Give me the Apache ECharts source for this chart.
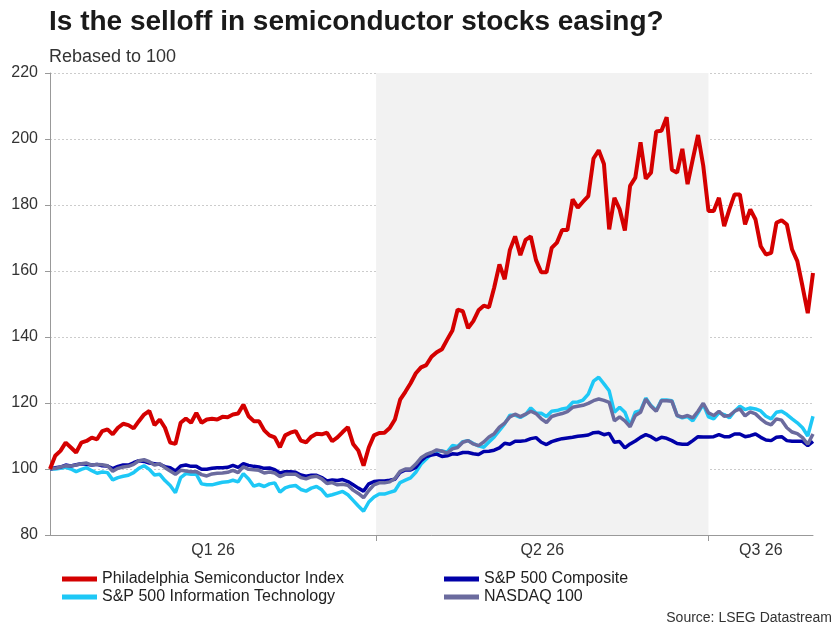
<!DOCTYPE html>
<html>
<head>
<meta charset="utf-8">
<script src="https://cdn.jsdelivr.net/npm/echarts@6/dist/echarts.min.js"></script>
<style>
  html, body { margin: 0; padding: 0; background: #fff; }
  #main { width: 840px; height: 629px; }
</style>
</head>
<body>
<div id="main"></div>
<script>
// 每个交易日一个点, 以100为基数
var sox = [100,104,105.5,108,106.5,105,108,108.5,109.5,109,
  111.5,112,110.5,112.5,113.7,113.3,112.3,114.5,116.5,117.6,
  113.3,115,112.5,108,107.6,114,115.3,114,117,114,
  115,115.2,115,115.8,115.7,116.5,116.8,119.5,116,114.5,
  114.5,111.7,110.2,109.6,106.6,110.2,111,111.5,108.6,108.1,
  109.8,110.7,110.5,111,108.4,109.6,111.2,112.7,107.6,105.6,
  101,106.5,110.2,110.9,111,112.4,115,121,123.4,126,
  129,130.8,131.5,134,135.4,136.3,139.2,142,148.3,147.8,
  142.7,144.8,148.1,149.5,149,155,162,157.5,166.4,170.5,
  164.8,169.4,170.5,163.3,159.6,159.6,167,168.6,172.4,172.4,
  181.7,179.2,181,182.7,194.1,196.6,192.4,172.6,182.2,178.7,
  172.3,185.8,188.3,199,188,189.8,202.3,202.5,206.6,190.7,
  189.8,197,186.3,193.9,201.2,191.9,178.2,178.2,182.2,173.6,
  178.7,183.2,183.2,174.1,178.7,175.6,167.5,165,165.5,174.6,
  175.4,174.1,166.5,163,155.3,147.2,159.4];
var spx = [100,100.4,100.6,101.2,100.9,101.3,101.6,101.4,101.2,101.4,
  101,100.9,100.1,100.8,101.2,101.2,101.9,102.5,102.3,101.8,
  101.6,101.4,100.7,100.4,99.4,100.9,101.2,100.8,100.8,99.9,
  99.9,100.2,100.4,100.4,100.5,101.1,100.5,101.6,101.1,100.8,
  100.6,100.2,100.3,99.8,98.8,99.2,99.2,99,98.2,97.8,
  98.1,98.1,97.4,96.4,96.7,96.5,96.8,96.2,95.2,94.2,
  93.3,95.5,96.2,96.4,96.4,96.6,96.9,99,99.7,99.7,
  100.5,102.5,103.8,104.2,104.5,103.8,104,104.6,104.5,105,
  105,104.6,104.4,105.3,105.4,105.7,106.4,107.8,107.5,108.4,
  108.4,108.6,109.2,109.5,108.1,107.4,108.3,108.8,109.2,109.4,
  109.6,109.9,110.1,110.3,111,111.1,110.4,110.8,108.1,108.3,
  106.4,107.6,108.5,109.6,110.4,109.8,108.8,109.6,109.3,108.6,
  107.7,107.5,107.5,108.6,109.8,109.7,109.7,109.8,110.4,109.8,
  109.8,110.6,110.6,109.8,110.1,110.6,109.6,108.8,108.6,109.6,
  109.8,108.6,108.4,108.4,108.4,107.1,108.4];
var spxIT = [100,100,100.2,100.5,100,99.2,99.9,100.4,99.5,98.7,
  99.1,98.9,96.7,97.4,97.8,98.1,98.9,100.2,101,99.9,
  98.2,98.4,96.5,95,92.8,97.4,98.6,98.4,98.4,95.5,
  95.2,95.2,95.6,96,96.1,96.6,96.1,98.6,97,94.8,
  95.3,94.7,95.5,95.8,93,94.3,94.8,95,93.8,93.3,
  94.2,94.7,93.7,91.8,92.2,92.7,93.2,92.2,90.5,88.8,
  87.2,90,91.5,92.4,92.4,92.9,93.4,95.9,96.6,97.3,
  99,101.5,103,104.6,105.4,105.5,105.1,107.1,106.8,108.3,
  108.6,107.7,107,106.6,108.2,109.7,111.7,113.7,116.3,116.3,
  115.6,116.5,118.5,117,116.9,115.9,117.5,117.7,118.2,118.5,
  120.2,120.3,120.9,122.7,126.6,127.8,125.8,123.7,117.2,118.7,
  117.2,113.1,117.2,117.7,121.5,119.2,117.7,120.9,120.9,120.7,
  116.2,115.5,115.9,114.6,117,119.7,115.8,115.2,117,116.5,
  115.5,117.5,119,118,118.5,118.2,117.6,116,115.2,117.2,
  117.5,116.5,115.2,114,112.5,110,116];
var ndx = [100,100.2,100.6,101,100.9,101.2,101.6,101.8,101.2,101.4,
  101.3,101,99.3,100.2,100.6,100.8,101.4,102.5,102.8,102.2,
  101.2,101.6,100.4,99.4,98.4,99.6,99.4,99.2,99.2,98.3,
  97.9,98.5,98.7,98.8,99,99.6,98.9,100.7,99.9,99.8,
  99.6,98.8,99.1,98.8,97.7,98.4,98.4,98.4,97.4,97,
  97.6,97.8,97,95.6,95.9,95.2,95.4,95.1,93.6,92.6,
  91.3,93.5,95.2,95.8,95.8,96.1,97.1,99.3,100,100,
  101.5,103.4,104.4,105,105.8,105.4,104.8,106.1,106.5,108.1,
  108.6,107.6,107.1,108.2,109.7,110.7,112.7,113.9,115.8,116.6,
  115.9,116.6,117.5,116.8,115.2,114.1,115.9,116.4,116.8,117.4,
  118.7,119,119.3,119.9,120.7,121.2,120.8,120.2,114.6,115.8,
  114.6,112.8,116.2,117.2,121.2,119,117.5,120.7,120.7,120.5,
  116.2,115.7,116.2,115.5,117.5,119.9,117,116.2,117.5,116,
  116.2,117.5,118.2,116.1,117.3,116.7,115.2,114,113.4,115.2,
  114.8,112.5,111.2,110.7,109.5,107.5,110.6];

// 季度标签和分界 (按交易日序号)
var quarterNames = ['Q1 26', 'Q2 26', 'Q3 26'];
var quarterEdges = [0, 62.4, 126, 146];
var yTicks = [80, 100, 120, 140, 160, 180, 200, 220];

var names = ['Philadelphia Semiconductor Index', 'S&P 500 Composite',
  'S&P 500 Information Technology', 'NASDAQ 100'];

function toPairs (arr) {
  return arr.map(function (v, i) { return [i, v]; });
}

// 季度标签放在每段中间
var labelPos = [];
for (var q = 0; q < quarterNames.length; q++) {
  labelPos.push((quarterEdges[q] + quarterEdges[q + 1]) / 2);
}

var myChart = echarts.init(document.getElementById('main'));
var font = 'Liberation Sans, Arial, sans-serif';

var option = {
  animation: false,
  backgroundColor: '#fff',
  textStyle: { fontFamily: font },
  title: {
    text: 'Is the selloff in semiconductor stocks easing?',
    subtext: 'Rebased to 100',
    left: 44,
    top: 3,
    itemGap: 12,
    textStyle: { fontSize: 28, fontWeight: 'bold', color: '#1a1a1a', fontFamily: font },
    subtextStyle: { fontSize: 18, color: '#333', fontFamily: font }
  },
  grid: { left: 50, right: 27, top: 73, bottom: 94 },
  legend: [
    {
      orient: 'vertical',
      left: 57,
      top: 566,
      itemGap: 2,
      itemWidth: 35,
      itemHeight: 5,
      icon: 'rect',
      selectedMode: false,
      data: [names[0], names[2]],
      textStyle: { fontSize: 16, color: '#222', fontFamily: font }
    },
    {
      orient: 'vertical',
      left: 439,
      top: 566,
      itemGap: 2,
      itemWidth: 35,
      itemHeight: 5,
      icon: 'rect',
      selectedMode: false,
      data: [names[1], names[3]],
      textStyle: { fontSize: 16, color: '#222', fontFamily: font }
    }
  ],
  graphic: [{
    type: 'text',
    right: 8,
    top: 611,
    style: { text: 'Source: LSEG Datastream', fontSize: 14, fill: '#333', fontFamily: font }
  }],
  xAxis: {
    type: 'value',
    min: 0,
    max: 146,
    axisLine: { lineStyle: { color: '#999' } },
    axisTick: { customValues: quarterEdges.slice(1, 3), length: 6, lineStyle: { color: '#999' } },
    axisLabel: {
      customValues: labelPos,
      margin: 8,
      fontSize: 16,
      color: '#333',
      formatter: function (v) {
        var best = 0;
        for (var k = 0; k < labelPos.length; k++) {
          if (Math.abs(labelPos[k] - v) < Math.abs(labelPos[best] - v)) best = k;
        }
        return quarterNames[best];
      }
    },
    splitLine: { show: false }
  },
  yAxis: {
    type: 'value',
    min: yTicks[0],
    max: yTicks[yTicks.length - 1],
    interval: 20,
    axisLine: { show: true, lineStyle: { color: '#999' } },
    axisTick: { show: true, length: 5, lineStyle: { color: '#999' } },
    axisLabel: { fontSize: 16, color: '#333', margin: 12 },
    splitLine: { lineStyle: { color: '#ccc', type: [2, 2] } }
  },
  series: [
    {
      // 灰色背景块 (第二季度)
      type: 'line',
      data: [],
      z: -1,
      silent: true,
      markArea: {
        silent: true,
        itemStyle: { color: '#f2f2f2' },
        data: [[{ xAxis: quarterEdges[1] }, { xAxis: quarterEdges[2] }]]
      }
    },
    {
      name: names[2],
      type: 'line',
      data: toPairs(spxIT),
      showSymbol: false,
      color: '#1ec8f6',
      lineStyle: { width: 3.5, color: '#1ec8f6' }
    },
    {
      name: names[1],
      type: 'line',
      data: toPairs(spx),
      showSymbol: false,
      color: '#0000a8',
      lineStyle: { width: 3.5, color: '#0000a8' }
    },
    {
      name: names[3],
      type: 'line',
      data: toPairs(ndx),
      showSymbol: false,
      color: '#6b6b9e',
      lineStyle: { width: 3.5, color: '#6b6b9e' }
    },
    {
      name: names[0],
      type: 'line',
      data: toPairs(sox),
      showSymbol: false,
      color: '#d40000',
      lineStyle: { width: 4, color: '#d40000' }
    }
  ]
};

myChart.setOption(option);
</script>
</body>
</html>
